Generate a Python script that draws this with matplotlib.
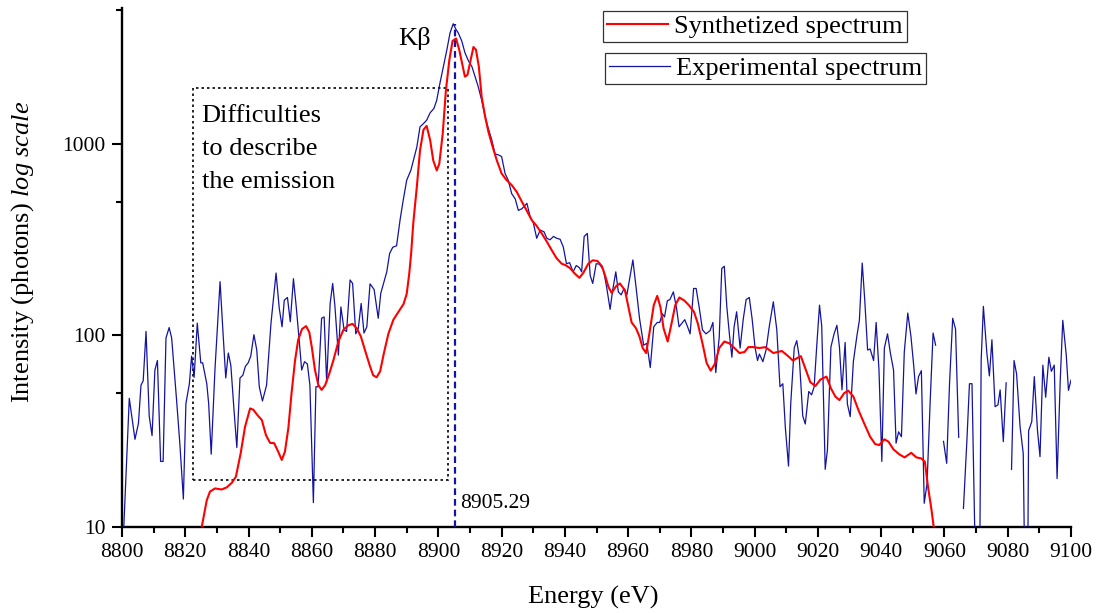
import numpy as np
import matplotlib
matplotlib.use("Agg")
import matplotlib.pyplot as plt
from matplotlib.ticker import FixedLocator, FixedFormatter, NullFormatter
from matplotlib.patches import Rectangle
from matplotlib.lines import Line2D

plt.rcParams['font.family'] = ['Liberation Serif', 'DejaVu Serif']
plt.rcParams['mathtext.fontset'] = 'custom'
plt.rcParams['mathtext.rm'] = 'Liberation Serif'
plt.rcParams['mathtext.it'] = 'Liberation Serif:italic'

# ---------------- data ----------------
exp_energy = [8800.0, 8802.3, 8804.1, 8805.2, 8806.0, 8806.7, 8807.6, 8808.6, 8809.5, 8810.4,
              8811.2, 8812.2, 8813.0, 8813.9, 8814.9, 8815.7, 8817.3, 8818.3, 8819.4, 8820.2,
              8821.3, 8822.0, 8822.8, 8823.8, 8824.9, 8825.5, 8826.8, 8827.4, 8828.2, 8829.4,
              8831.0, 8832.0, 8832.8, 8833.6, 8834.4, 8835.4, 8836.3, 8837.3, 8838.2, 8839.0,
              8839.9, 8840.7, 8841.7, 8842.6, 8843.4, 8844.4, 8845.7, 8847.1, 8848.7, 8849.7,
              8850.6, 8851.3, 8852.3, 8853.2, 8854.2, 8855.1, 8856.0, 8856.8, 8857.7, 8858.6,
              8859.4, 8860.5, 8861.3, 8862.0, 8863.1, 8863.9, 8864.7, 8865.8, 8866.6, 8867.3,
              8868.4, 8869.2, 8870.2, 8871.0, 8872.1, 8872.9, 8873.9, 8874.7, 8875.6, 8876.5,
              8877.4, 8878.4, 8879.7, 8881.0, 8881.8, 8882.8, 8883.7, 8884.6, 8885.6, 8886.8,
              8887.9, 8888.9, 8890.0, 8891.3, 8892.1, 8893.2, 8894.2, 8895.3, 8896.3, 8897.4,
              8898.6, 8899.5, 8900.5, 8901.6, 8902.7, 8903.7, 8904.7, 8905.6, 8906.3, 8907.4,
              8908.4, 8909.5, 8910.6, 8911.6, 8912.6, 8913.7, 8914.8, 8915.8, 8916.9, 8917.9,
              8919.0, 8920.0, 8921.1, 8922.1, 8923.2, 8924.3, 8925.3, 8926.4, 8928.0, 8929.0,
              8930.0, 8931.1, 8932.2, 8933.4, 8934.3, 8935.3, 8936.4, 8937.4, 8938.5, 8939.5,
              8940.5, 8941.5, 8942.6, 8943.6, 8944.6, 8945.3, 8946.1, 8947.1, 8948.0, 8948.8,
              8949.9, 8950.9, 8952.2, 8953.2, 8954.3, 8955.1, 8956.1, 8956.9, 8957.8, 8958.7,
              8959.6, 8960.4, 8961.5, 8962.5, 8963.6, 8964.9, 8965.9, 8967.0, 8968.1, 8969.2,
              8970.0, 8970.8, 8971.5, 8972.4, 8973.2, 8974.3, 8975.3, 8976.1, 8977.0, 8977.9,
              8978.8, 8979.6, 8980.7, 8981.5, 8982.5, 8983.5, 8984.6, 8985.9, 8986.8, 8987.7,
              8988.8, 8989.6, 8990.4, 8991.2, 8992.0, 8992.8, 8993.5, 8994.3, 8995.4, 8996.4,
              8997.3, 8998.3, 8999.2, 9000.1, 9000.9, 9001.5, 9002.6, 9003.6, 9004.6, 9005.9,
              9007.0, 9008.0, 9008.9, 9009.7, 9010.7, 9011.4, 9012.5, 9013.3, 9014.1, 9015.2,
              9016.0, 9017.1, 9018.0, 9018.8, 9019.6, 9020.5, 9021.2, 9022.3, 9023.0, 9024.1,
              9025.1, 9026.0, 9026.8, 9027.6, 9028.6, 9029.3, 9030.2, 9031.2, 9032.3, 9033.1,
              9034.0, 9034.8, 9035.7, 9036.5, 9037.6, 9038.4, 9039.3, 9040.2, 9041.0, 9042.0,
              9042.9, 9043.9, 9044.7, 9045.5, 9046.4, 9047.3, 9048.4, 9049.4, 9050.3, 9051.0,
              9051.8, 9052.7, 9053.6, 9054.5, 9055.5, 9056.4, 9057.2, 9058.5, 9059.7, 9060.7,
              9061.6, 9062.6, 9063.5, 9064.5, 9065.3, 9066.0, 9067.1, 9067.9, 9068.7, 9070.0,
              9071.0, 9071.6, 9072.3, 9073.4, 9074.2, 9075.0, 9076.0, 9076.9, 9077.6, 9078.6,
              9079.5, 9080.3, 9081.2, 9082.0, 9082.8, 9083.9, 9084.9, 9085.6, 9086.2, 9086.6,
              9087.6, 9088.4, 9089.4, 9090.2, 9091.1, 9092.0, 9093.0, 9093.8, 9094.7, 9095.6,
              9096.6, 9097.4, 9098.5, 9099.2, 9100.0]
exp_counts = [6, 47, 28.7, 34.8, 55, 58, 105, 38, 30, 66,
              74, 22, 22, 97, 110, 97, 45, 27, 14, 44,
              56, 78, 60.5, 116, 72, 72, 56, 44, 24, 67,
              191, 99, 60, 81, 70, 41, 26, 60, 62, 69,
              72, 78, 101, 84, 54, 45.5, 55, 116, 212, 139,
              111, 153, 158, 118, 198, 140, 95, 66, 73, 71,
              55, 13.4, 54, 54, 123, 125, 57, 147, 187, 143,
              79, 141, 107, 105, 195, 187, 102, 109, 147, 103,
              111, 186, 174, 123, 166, 190, 215, 268, 289, 294,
              401, 509, 647, 728, 820, 963, 1228, 1278, 1331, 1455,
              1532, 1694, 2074, 2539, 3105, 3802, 4245, 3960, 3802, 3452,
              3002, 2720, 2540, 2248, 1995, 1694, 1388, 1205, 1050, 888,
              877, 860, 701, 647, 550, 517, 450, 459, 490, 419,
              389, 322, 355, 348, 322, 316, 329, 322, 318, 290,
              237, 240, 215, 232, 226, 215, 329, 341, 206, 187,
              237, 236, 220, 179, 137, 172, 215, 169, 163, 176,
              163, 195, 248, 179, 123, 89, 91, 68, 111, 117,
              117, 130, 125, 152, 154, 169, 139, 111, 116, 121,
              111, 102, 176, 176, 139, 107, 102, 106, 117, 64,
              98, 224, 230, 141, 102, 77, 111, 133, 86, 122,
              154, 158, 122, 87, 74, 80, 73, 84, 111, 150,
              107, 54, 56, 33, 20.8, 44, 86, 94, 77, 38,
              34.5, 51, 49, 54, 87, 144, 112, 20, 25.3, 87,
              102, 113, 87, 52, 92, 44, 37.7, 73, 99, 120,
              239, 153, 84, 85, 74, 117, 66, 22, 86, 102,
              81, 66, 27.4, 31.4, 29.6, 82, 131, 99, 69, 49.5,
              61, 65.5, 13.3, 16.9, 46, 103, 89, np.nan, 28, 21.5,
              56, 123, 108, 29.4, np.nan, 12.5, 28.5, 56, 56, 4,
              3, 74, 142, 81, 61.5, 95, 42.5, 43.4, 52, 27.9,
              56.6, np.nan, 20, 74, 63, 33.4, 24.2, 3, 3, 31.8,
              35.5, 61, 32, 23.3, 70, 47.6, 77, 65, 70, 17.9,
              58.5, 120, 79, 51.7, 58.5]

syn_energy = [8824.5, 8825.2, 8826.8, 8827.8, 8829.4, 8831.5, 8833.1, 8834.7, 8836.0, 8837.5,
              8838.9, 8840.5, 8841.5, 8842.8, 8844.2, 8845.5, 8846.8, 8848.1, 8849.4, 8850.5,
              8851.5, 8852.6, 8853.6, 8854.7, 8855.7, 8856.9, 8858.2, 8859.2, 8860.0, 8861.0,
              8862.1, 8863.1, 8864.2, 8865.5, 8866.8, 8868.4, 8870.0, 8871.5, 8872.9, 8874.2,
              8875.5, 8876.8, 8878.4, 8879.4, 8880.5, 8881.6, 8882.8, 8884.2, 8885.8, 8887.4,
              8889.0, 8890.0, 8890.8, 8891.4, 8892.1, 8893.2, 8894.2, 8895.3, 8896.3, 8897.4,
              8898.4, 8899.5, 8900.3, 8901.4, 8902.4, 8903.5, 8904.5, 8905.6, 8906.6, 8907.7,
              8908.4, 8909.2, 8910.0, 8911.1, 8911.9, 8912.8, 8913.7, 8914.8, 8915.8, 8917.2,
              8918.5, 8920.0, 8921.6, 8923.2, 8924.8, 8926.4, 8928.0, 8929.5, 8931.1, 8932.7,
              8934.3, 8935.9, 8937.4, 8939.0, 8940.2, 8941.6, 8943.2, 8944.6, 8945.8, 8947.4,
              8948.8, 8950.3, 8951.7, 8952.7, 8953.8, 8954.8, 8956.2, 8957.4, 8959.0, 8960.1,
              8961.1, 8962.5, 8963.6, 8964.6, 8965.7, 8966.7, 8968.1, 8969.2, 8970.2, 8971.2,
              8972.5, 8973.5, 8974.9, 8976.2, 8977.8, 8979.2, 8980.8, 8982.0, 8983.5, 8984.8,
              8986.1, 8987.4, 8988.8, 8990.4, 8992.0, 8993.6, 8995.2, 8996.8, 8998.0, 8999.5,
              9001.5, 9003.4, 9005.9, 9008.6, 9010.2, 9012.1, 9013.3, 9014.6, 9016.0, 9017.6,
              9019.2, 9020.8, 9022.7, 9024.1, 9025.5, 9026.8, 9028.3, 9029.6, 9031.2, 9032.8,
              9034.6, 9036.5, 9038.1, 9039.4, 9041.0, 9042.3, 9043.9, 9045.8, 9047.4, 9049.5,
              9051.1, 9052.7, 9053.8, 9054.8, 9055.9, 9056.6, 9057.2]
syn_counts = [8, 10, 13.8, 15.3, 15.9, 15.7, 16.1, 17, 18.3, 24.2,
              33.4, 41.6, 41, 38.4, 36.2, 30.2, 27.5, 27.4, 24.7, 22.4,
              24.7, 33, 50, 74, 95, 108, 112, 104, 87, 66,
              55, 52, 55, 63, 74, 93, 107, 113, 115, 109,
              99, 84, 69, 62, 60.5, 65, 81, 102, 121, 133,
              146, 165, 210, 268, 390, 597, 924, 1187, 1243, 1050,
              820, 728, 788, 1139, 1912, 2760, 3452, 3555, 3105, 2540,
              2248, 2294, 2649, 3210, 3105, 2540, 1762, 1388, 1163, 963,
              820, 701, 647, 610, 562, 500, 447, 401, 373, 341,
              309, 278, 253, 237, 233, 225, 210, 200, 212, 237,
              247, 245, 230, 206, 179, 167, 181, 187, 172, 141,
              117, 109, 98.6, 86, 81, 102, 144, 161, 141, 109,
              93, 111, 144, 158, 152, 144, 133, 116, 91, 72,
              65.5, 71, 86, 93, 91, 86, 81, 82, 87, 87,
              86, 87, 81, 83, 79, 74, 76, 78, 67.5, 57,
              54.5, 58.9, 61, 53, 48, 46, 50, 51.5, 48, 40.8,
              34.8, 29.6, 27.1, 26.8, 28.7, 27.9, 25.4, 23.9, 23.1, 24.4,
              23.1, 22.8, 21.9, 16.2, 12.3, 10, 8.5]

kbeta_energy = 8905.29
kbeta_top = 4245
box_energy = [8822.4, 8902.9]
box_counts = [17.7, 1970]

x_ticks = [8800, 8820, 8840, 8860, 8880, 8900, 8920, 8940, 8960, 8980,
           9000, 9020, 9040, 9060, 9080, 9100]
y_ticks = [10, 100, 1000]
y_tick_labels = ['10', '100', '1000']
y_minor = [50, 500, 5000]

# ---------------- figure ----------------
W, H = 1098, 613
fig = plt.figure(figsize=(W / 100, H / 100), dpi=100)

def fx(px):
    return px / W

def fy(py):
    return 1 - py / H

ax_left, ax_right, ax_top, ax_bot = 122, 1071, 8.3, 527
ax = fig.add_axes([fx(ax_left), fy(ax_bot), (ax_right - ax_left) / W, (ax_bot - ax_top) / H])

red = '#ff0000'
navy = '#1414a0'

ax.plot(syn_energy, syn_counts, color=red, lw=1.5, zorder=4)
ax.plot(exp_energy, exp_counts, color=navy, lw=0.9, zorder=3)

ax.set_yscale('log')
ax.set_xlim(8800, 9100)
ax.set_ylim(10, 5112)

# dotted box
ax.add_patch(Rectangle((box_energy[0], box_counts[0]), box_energy[1] - box_energy[0],
                       box_counts[1] - box_counts[0], fill=False, edgecolor='black',
                       lw=1.2, linestyle=(0, (1.5, 1.8)), zorder=2))
# K-beta dashed line
ax.plot([kbeta_energy, kbeta_energy], [10, kbeta_top], color=navy, lw=1.6,
        linestyle=(0, (3, 1.8)), zorder=5, clip_on=False)

# ticks
ax.xaxis.set_major_locator(FixedLocator(x_ticks))
ax.xaxis.set_minor_locator(FixedLocator(np.arange(8810, 9100, 20)))
ax.yaxis.set_major_locator(FixedLocator(y_ticks))
ax.yaxis.set_major_formatter(FixedFormatter(y_tick_labels))
ax.yaxis.set_minor_locator(FixedLocator(y_minor))
ax.yaxis.set_minor_formatter(NullFormatter())

for s in ['top', 'right']:
    ax.spines[s].set_visible(False)
for s in ['left', 'bottom']:
    ax.spines[s].set_linewidth(1.7)

ax.tick_params(axis='both', which='major', direction='out', length=7, width=1.5,
               labelsize=15.5, color='black')
ax.tick_params(axis='both', which='minor', direction='out', length=4, width=1.5)
ax.tick_params(axis='x', which='major', pad=4.5)
ax.tick_params(axis='y', which='major', pad=5)

# axis titles
fig.text(fx(593), fy(604), 'Energy (eV)', fontsize=19, ha='center', va='baseline')
fig.text(fx(23), fy(252), r'Intensity (photons) $\it{log\ scale}$', fontsize=19,
         rotation=90, ha='center', va='center')

# annotations
fig.text(fx(398), fy(45), 'Kβ', fontsize=19, ha='left', va='baseline')
fig.text(fx(460), fy(508), '8905.29', fontsize=15.5, ha='left', va='baseline')
for txt, base in [('Difficulties', 122.3), ('to describe', 155.0), ('the emission', 187.5)]:
    fig.text(fx(201.5), fy(base), txt, fontsize=19, ha='left', va='baseline')

# legends (two separate boxes)
h1 = Line2D([], [], color=red, lw=1.5)
h2 = Line2D([], [], color=navy, lw=0.9)
common = dict(loc='upper left', bbox_transform=fig.transFigure, borderaxespad=0,
              fontsize=19, frameon=True, fancybox=False, handlelength=2.3,
              handletextpad=0.25, borderpad=0.15, framealpha=1)
leg1 = ax.legend([h1], ['Synthetized spectrum'], bbox_to_anchor=(fx(603), fy(10.7)), **common)
leg1.get_frame().set_edgecolor('#333333')
leg1.get_frame().set_linewidth(0.9)
ax.add_artist(leg1)
leg2 = ax.legend([h2], ['Experimental spectrum'], bbox_to_anchor=(fx(605), fy(52.7)), **common)
leg2.get_frame().set_edgecolor('#333333')
leg2.get_frame().set_linewidth(0.9)

fig.savefig('out.png', dpi=100)
